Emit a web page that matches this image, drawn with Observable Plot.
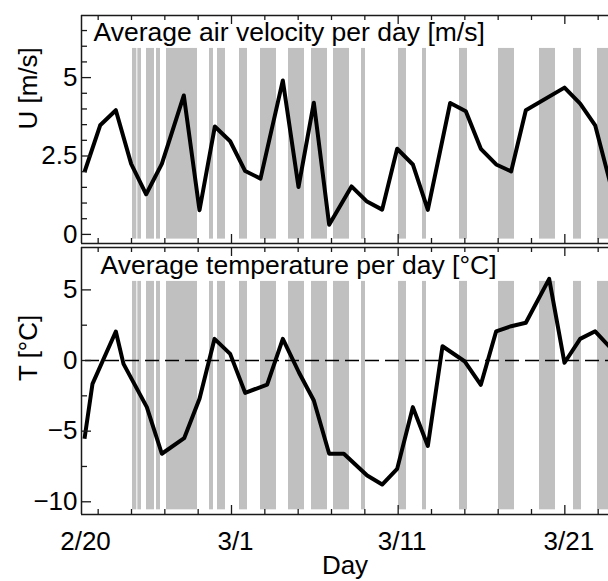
<!DOCTYPE html>
<html>
<head>
<meta charset="utf-8">
<script src="https://cdn.jsdelivr.net/npm/d3@7"></script>
<script src="https://cdn.jsdelivr.net/npm/@observablehq/plot@0.6"></script>
<style>
  html, body { margin: 0; background: white; overflow: hidden; }
  #chart { width: 608px; height: 581px; overflow: hidden; position: relative; }
  #chart svg { display: block; }
</style>
</head>
<body>
<div id="chart"></div>
<script>
// ---- data (days since 2/20/2013) ----
const uDays = [0.18, 1.12, 2.06, 2.98, 3.88, 4.82, 6.14, 7.08, 8.0, 8.92, 9.82, 10.74, 12.08, 13.02, 13.94, 14.86, 16.2, 17.1, 18.04, 18.94, 19.88, 20.78, 22.12, 23.06, 23.96, 24.88, 25.78, 26.66, 28.98, 29.92, 30.82, 31.74];
const uVals = [1.99, 3.48, 3.96, 2.25, 1.28, 2.25, 4.43, 0.77, 3.44, 2.97, 2.02, 1.78, 4.91, 1.51, 4.20, 0.31, 1.53, 1.06, 0.79, 2.73, 2.23, 0.78, 4.19, 3.93, 2.73, 2.23, 2.01, 3.96, 4.68, 4.17, 3.48, 1.6];

const tDays = [0.18, 0.66, 2.06, 2.52, 3.92, 4.82, 6.16, 7.08, 7.98, 8.92, 9.82, 11.14, 12.08, 13.04, 13.94, 14.86, 15.74, 17.14, 18.04, 18.94, 19.88, 20.78, 21.66, 22.98, 23.96, 24.88, 25.78, 26.66, 28.06, 28.98, 29.92, 30.82, 31.74];
const tVals = [-5.54, -1.65, 2.05, -0.24, -3.30, -6.60, -5.50, -2.71, 1.53, 0.47, -2.29, -1.7, 1.53, -0.83, -2.83, -6.60, -6.60, -8.14, -8.78, -7.67, -3.30, -6.05, 1.01, -0.05, -1.72, 2.07, 2.43, 2.67, 5.78, -0.16, 1.53, 2.07, 0.9];

const bandStart = [3.06, 3.38, 3.90, 4.50, 5.10, 7.68, 8.16, 9.48, 10.74, 12.42, 13.80, 15.12, 16.80, 19.02, 20.46, 22.68, 25.02, 27.48, 29.52, 30.96];
const bandEnd   = [3.32, 3.60, 4.38, 4.74, 6.96, 7.92, 8.64, 9.96, 11.70, 13.38, 14.76, 16.08, 17.04, 19.50, 20.70, 23.16, 25.98, 28.44, 30.00, 31.92];

const xLabelDays = [0, 9, 19, 29];
const xTickLabels = ["2/20", "3/1", "3/11", "3/21"];
const xMajorDays = [9, 19, 29];
const xMinorDays = [1, 3, 5, 7, 11, 13, 15, 17, 21, 23, 25, 27, 31];

const uMajor = [0, 2.5, 5];
const uMinor = [0.5, 1, 1.5, 2, 3, 3.5, 4, 4.5, 5.5, 6, 6.5];
const tMajor = [-10, -5, 0, 5];
const tMinor = [-7.5, -2.5, 2.5];

const topTitle = "Average air velocity per day [m/s]";
const botTitle = "Average temperature per day [°C]";
const uLabel = "U [m/s]";
const tLabel = "T [°C]";
const xLabel = "Day";

// ---- helpers ----
const base = Date.UTC(2013, 1, 20);
const day = d => new Date(base + d * 864e5);
const FONT = "'Liberation Sans', Arial, Helvetica, sans-serif";
const FS = 26;
const TFS = 26.5;
const W = 608, ML = 81, MR = 0;
const frameW = W - ML - MR;
const xDomain = [day(0), day(31.62)];
const fmt = v => String(v).replace("-", "\u2212");
const frameStroke = "#1a1a1a";

const uData = uDays.map((d, i) => ({date: day(d), v: uVals[i]}));
const tData = tDays.map((d, i) => ({date: day(d), v: tVals[i]}));
const bands = bandStart.map((s, i) => ({x1: day(s), x2: day(bandEnd[i])}));

function panel({height, marginTop, marginBottom, yDomain, bandY, data, major, minor, title, titleDx, titleDy, ylab, extra = [], bottomLabels = false, background, overflow}) {
  const frameH = height - marginTop - marginBottom;
  const xTicks = (days, len, where) => Plot.ruleX(days.map(day), {
    x: d => d, stroke: frameStroke, strokeWidth: 1.3,
    ...(where === "bottom" ? {insetTop: frameH - len} : {insetBottom: frameH - len})
  });
  const yTicks = (vals, len) => Plot.ruleY(vals, {y: d => d, stroke: frameStroke, strokeWidth: 1.3, insetRight: frameW - len});
  const marks = [
    Plot.rect(bands, {x1: "x1", x2: "x2", y1: bandY[0], y2: bandY[1], fill: "#c0c0c0"}),
    ...extra,
    Plot.line(data, {x: "date", y: "v", stroke: "black", strokeWidth: 4, strokeLinejoin: "round", strokeLinecap: "butt"}),
    Plot.ruleX([xDomain[0]], {stroke: frameStroke, strokeWidth: 1.5}),
    Plot.ruleY([yDomain[0]], {stroke: frameStroke, strokeWidth: 1.5}),
    Plot.ruleY([yDomain[1]], {stroke: frameStroke, strokeWidth: 1.5}),
    xTicks(xMinorDays, 5, "bottom"), xTicks(xMinorDays, 5, "top"),
    xTicks(xMajorDays, 9, "bottom"), xTicks(xMajorDays, 9, "top"),
    yTicks(minor, 6), yTicks(major, 10),
    Plot.text(major, {y: d => d, text: d => fmt(d), frameAnchor: "left", dx: -4, textAnchor: "end", fontSize: FS, fill: "black"}),
    Plot.text([title], {frameAnchor: "top-left", dx: titleDx, dy: titleDy, lineAnchor: "top", textAnchor: "start", fontSize: TFS, fill: "black"}),
    Plot.text([ylab], {frameAnchor: "left", dx: -53, rotate: -90, fontSize: FS, fill: "black"})
  ];
  if (bottomLabels) {
    marks.push(Plot.text(xLabelDays, {x: d => day(d), text: (d, i) => xTickLabels[i], frameAnchor: "bottom", dx: 4, dy: 17, lineAnchor: "top", fontSize: FS, fill: "black"}));
    marks.push(Plot.text([xLabel], {frameAnchor: "bottom", dy: 41, lineAnchor: "top", fontSize: FS, fill: "black"}));
  }
  return Plot.plot({
    width: W, height, marginLeft: ML, marginRight: MR, marginTop, marginBottom,
    style: {fontFamily: FONT, background, overflow},
    x: {type: "utc", domain: xDomain, axis: null},
    y: {domain: yDomain, axis: null},
    marks
  });
}

const topPanel = panel({
  height: 245, marginTop: 15, marginBottom: 2,
  yDomain: [-0.29, 6.98], bandY: [-0.15, 5.93],
  data: uData, major: uMajor, minor: uMinor,
  title: topTitle, titleDx: 12, titleDy: 7, ylab: uLabel,
  background: "white", overflow: "visible"
});

const bottomPanel = panel({
  height: 336, marginTop: 2, marginBottom: 67,
  yDomain: [-10.9, 8.0], bandY: [-10.57, 5.6],
  data: tData, major: tMajor, minor: tMinor,
  title: botTitle, titleDx: 19, titleDy: 8, ylab: tLabel,
  extra: [Plot.ruleY([0], {stroke: "black", strokeWidth: 1.3, strokeDasharray: "14 6", insetLeft: 4})],
  bottomLabels: true,
  background: "transparent", overflow: "hidden"
});

const chart = document.getElementById("chart");
chart.appendChild(topPanel);
chart.appendChild(bottomPanel);
</script>
</body>
</html>
